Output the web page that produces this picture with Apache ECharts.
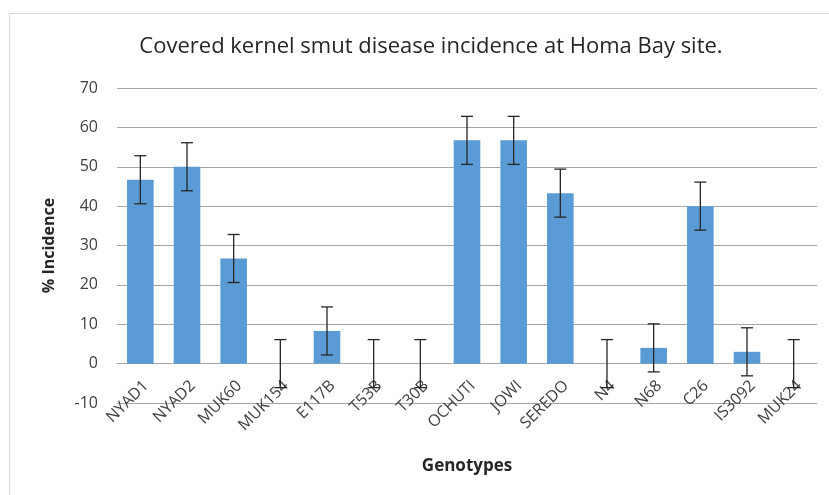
<!DOCTYPE html>
<html>
<head>
<meta charset="utf-8">
<script src="https://cdn.jsdelivr.net/npm/echarts@6/dist/echarts.min.js"></script>
<style>
  body { margin: 0; background: #fff; }
  .chart-box { width: 829px; height: 495px; position: relative; }
  .frame { position: absolute; left: 9px; top: 13px; width: 900px; height: 600px; border: 1px solid #d9d9d9; }
  #chart { position: absolute; left: 0; top: 0; width: 829px; height: 495px; }
</style>
</head>
<body>
<div class="chart-box">
  <div class="frame"></div>
  <div id="chart"></div>
</div>
<script>
  var genotypes = ['NYAD1', 'NYAD2', 'MUK60', 'MUK154', 'E117B', 'T53B', 'T30B', 'OCHUTI',
    'JOWI', 'SEREDO', 'N4', 'N68', 'C26', 'IS3092', 'MUK24'];
  var incidence = [46.7, 50, 26.7, 0, 8.3, 0, 0, 56.7, 56.7, 43.3, 0, 4, 40, 3, 0];
  var stdError = [6.1, 6.1, 6.1, 6.1, 6.1, 6.1, 6.1, 6.1, 6.1, 6.1, 6.1, 6.1, 6.1, 6.1, 6.1];

  var errorData = incidence.map(function (v, i) {
    return [i, v - stdError[i], v + stdError[i]];
  });

  var chart = echarts.init(document.getElementById('chart'));
  var font = '"Open Sans", "Noto Sans", sans-serif';

  // plot area: 70 at y=88, -10 at y=403 -> one step of 10 is 39.4px
  var option = {
    animation: false,
    title: {
      text: 'Covered kernel smut disease incidence at Homa Bay site.',
      left: 426,
      textAlign: 'center',
      top: 31,
      textStyle: { fontFamily: font, fontSize: 22, fontWeight: 'normal', color: '#262626' }
    },
    grid: { left: 117, right: 12, top: 88, bottom: 92, outerBoundsMode: 'none' },
    xAxis: {
      type: 'category',
      data: genotypes,
      name: 'Genotypes',
      nameLocation: 'middle',
      nameGap: 94,
      nameTextStyle: { fontFamily: font, fontSize: 17, fontWeight: 'bold', color: '#262626' },
      axisLine: { onZero: false, lineStyle: { color: '#a6a6a6' } },
      offset: -39.4,
      axisTick: { show: false },
      axisLabel: {
        interval: 0,
        rotate: 45,
        margin: 14,
        verticalAlign: 'top',
        fontFamily: font,
        fontSize: 16,
        color: '#404040'
      }
    },
    yAxis: {
      type: 'value',
      min: -10,
      max: 70,
      interval: 10,
      name: '% Incidence',
      nameLocation: 'middle',
      nameGap: 60,
      nameTextStyle: { fontFamily: font, fontSize: 16, fontWeight: 'bold', color: '#262626' },
      axisLine: { show: false },
      axisTick: { show: false },
      axisLabel: { fontFamily: font, fontSize: 16, color: '#404040', margin: 19 },
      splitLine: { lineStyle: { color: '#a6a6a6', width: 1 } }
    },
    series: [
      {
        type: 'bar',
        data: incidence,
        barWidth: '57%',
        itemStyle: { color: '#5b9bd5' }
      },
      {
        type: 'custom',
        data: errorData,
        z: 10,
        renderItem: function (params, api) {
          var i = api.value(0);
          var low = api.coord([i, api.value(1)]);
          var high = api.coord([i, api.value(2)]);
          var half = 6;
          var style = { stroke: '#262626', lineWidth: 1.3 };
          return {
            type: 'group',
            children: [
              { type: 'line', shape: { x1: high[0], y1: high[1], x2: low[0], y2: low[1] }, style: style },
              { type: 'line', shape: { x1: high[0] - half, y1: high[1], x2: high[0] + half, y2: high[1] }, style: style },
              { type: 'line', shape: { x1: low[0] - half, y1: low[1], x2: low[0] + half, y2: low[1] }, style: style }
            ]
          };
        }
      }
    ]
  };

  chart.setOption(option);
</script>
</body>
</html>
